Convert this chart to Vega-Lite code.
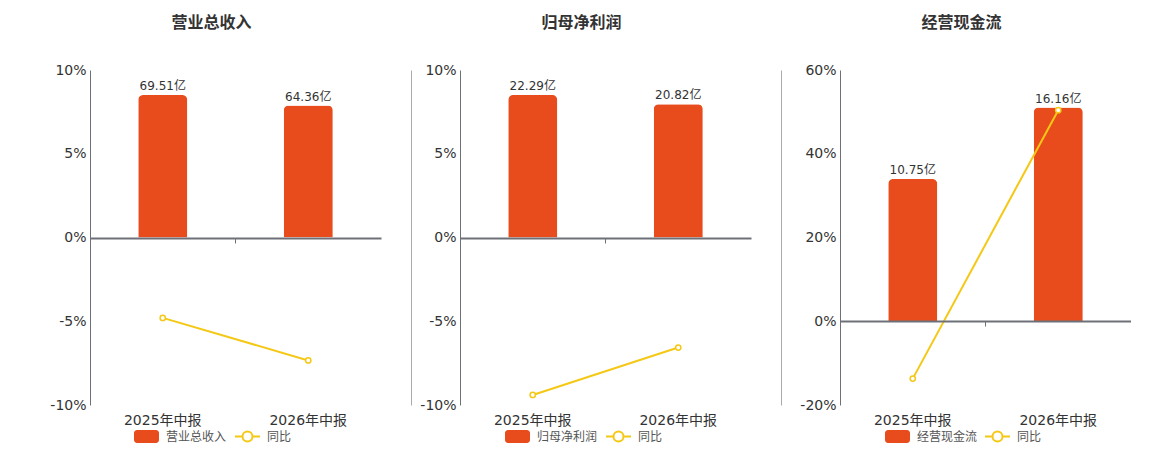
{
  "$schema": "https://vega.github.io/schema/vega-lite/v6.json",
  "padding": {"left": 49, "top": 15, "right": 0, "bottom": 0},
  "background": "white",
  "config": {
    "font": "DejaVu Sans, Noto Sans CJK SC",
    "view": {"stroke": null},
    "title": {"fontSize": 16, "fontWeight": "bold", "color": "#333", "offset": 32, "dx": -24}
  },
  "spacing": 30,
  "bounds": "full",
  "hconcat": [
    {
      "width": 291,
      "height": 335,
      "title": "营业总收入",
      "data": {
        "values": [
          {"period": "2025年中报", "value": 69.51, "label": "69.51亿", "yoy": -4.8, "name": "营业总收入", "yoyName": "同比"},
          {"period": "2026年中报", "value": 64.36, "label": "64.36亿", "yoy": -7.34, "name": "营业总收入", "yoyName": "同比"}
        ]
      },
      "layer": [
        {
          "encoding": {
            "x": {"field": "period", "type": "nominal", "sort": null, "scale": {"paddingInner": 0, "paddingOuter": 0},
              "axis": {"orient": "bottom", "title": null, "domain": false, "ticks": false, "labelAngle": 0, "labelFontSize": 14, "labelColor": "#333", "labelPadding": 8}},
            "y": {"field": "value", "type": "quantitative", "scale": {"domain": [-81.7, 81.7]}, "axis": null}
          },
          "layer": [
            {
              "mark": {"type": "bar", "width": {"band": 0.337}, "cornerRadiusTopLeft": 5, "cornerRadiusTopRight": 5},
              "encoding": {
                "fill": {"field": "name", "type": "nominal", "scale": {"range": ["#e84c1d"]},
                  "legend": {"orient": "none", "legendX": 43, "legendY": 353, "title": null, "padding": 0, "labelFontSize": 12, "labelColor": "#555", "labelOffset": 6, "symbolSize": 625,
                    "symbolType": "M-0.76,-0.52H0.76A0.24,0.24 0 0 1 1,-0.28V0.28A0.24,0.24 0 0 1 0.76,0.52H-0.76A0.24,0.24 0 0 1 -1,0.28V-0.28A0.24,0.24 0 0 1 -0.76,-0.52Z"}}
              }
            },
            {
              "mark": {"type": "text", "dy": -9, "fontSize": 12, "color": "#333"},
              "encoding": {"text": {"field": "label"}}
            }
          ]
        },
        {
          "encoding": {
            "x": {"field": "period", "type": "nominal", "sort": null,
              "axis": {"orient": "bottom", "title": null, "labels": false, "offset": -167, "domainColor": "#6e7079", "domainWidth": 2, "tickColor": "#6e7079", "tickSize": 5, "bandPosition": 0, "zindex": 2}},
            "y": {"field": "yoy", "type": "quantitative", "scale": {"domain": [-10, 10]},
              "axis": {"orient": "left", "title": null, "values": [-10, -5, 0, 5, 10], "labelExpr": "datum.value + '%'", "ticks": false, "labelFontSize": 14, "labelColor": "#333", "labelPadding": 4, "domainColor": "#6e7079", "gridColor": "#e0e6f1"}}
          },
          "layer": [
            {
              "mark": {"type": "line", "strokeWidth": 2, "point": {"filled": false, "fill": "white", "size": 28, "strokeWidth": 1.5}},
              "encoding": {
                "stroke": {"field": "yoyName", "type": "nominal", "scale": {"range": ["#f4c815"]},
                  "legend": {"orient": "none", "legendX": 144, "legendY": 353, "title": null, "padding": 0, "labelFontSize": 12, "labelColor": "#555", "labelOffset": 6, "symbolSize": 625, "symbolStrokeWidth": 2, "symbolFillColor": "white",
                    "symbolType": "M-1,0H-0.4M0.4,0H1M0.4,0A0.4,0.4 0 1 1 -0.4,0A0.4,0.4 0 1 1 0.4,0Z"}}
              }
            }
          ]
        }
      ],
      "resolve": {"scale": {"y": "independent"}, "axis": {"x": "independent"}}
    },
    {
      "width": 291,
      "height": 335,
      "title": "归母净利润",
      "data": {
        "values": [
          {"period": "2025年中报", "value": 22.29, "label": "22.29亿", "yoy": -9.4, "name": "归母净利润", "yoyName": "同比"},
          {"period": "2026年中报", "value": 20.82, "label": "20.82亿", "yoy": -6.57, "name": "归母净利润", "yoyName": "同比"}
        ]
      },
      "layer": [
        {
          "encoding": {
            "x": {"field": "period", "type": "nominal", "sort": null, "scale": {"paddingInner": 0, "paddingOuter": 0},
              "axis": {"orient": "bottom", "title": null, "domain": false, "ticks": false, "labelAngle": 0, "labelFontSize": 14, "labelColor": "#333", "labelPadding": 8}},
            "y": {"field": "value", "type": "quantitative", "scale": {"domain": [-26.19, 26.19]},
              "axis": {"orient": "left", "offset": 49, "labels": false, "ticks": false, "grid": false, "title": null, "domainColor": "#aaaaaa", "domainWidth": 1}}
          },
          "layer": [
            {
              "mark": {"type": "bar", "width": {"band": 0.337}, "cornerRadiusTopLeft": 5, "cornerRadiusTopRight": 5},
              "encoding": {
                "fill": {"field": "name", "type": "nominal", "scale": {"range": ["#e84c1d"]},
                  "legend": {"orient": "none", "legendX": 44, "legendY": 353, "title": null, "padding": 0, "labelFontSize": 12, "labelColor": "#555", "labelOffset": 6, "symbolSize": 625,
                    "symbolType": "M-0.76,-0.52H0.76A0.24,0.24 0 0 1 1,-0.28V0.28A0.24,0.24 0 0 1 0.76,0.52H-0.76A0.24,0.24 0 0 1 -1,0.28V-0.28A0.24,0.24 0 0 1 -0.76,-0.52Z"}}
              }
            },
            {
              "mark": {"type": "text", "dy": -9, "fontSize": 12, "color": "#333"},
              "encoding": {"text": {"field": "label"}}
            }
          ]
        },
        {
          "encoding": {
            "x": {"field": "period", "type": "nominal", "sort": null,
              "axis": {"orient": "bottom", "title": null, "labels": false, "offset": -167, "domainColor": "#6e7079", "domainWidth": 2, "tickColor": "#6e7079", "tickSize": 5, "bandPosition": 0, "zindex": 2}},
            "y": {"field": "yoy", "type": "quantitative", "scale": {"domain": [-10, 10]},
              "axis": {"orient": "left", "title": null, "values": [-10, -5, 0, 5, 10], "labelExpr": "datum.value + '%'", "ticks": false, "labelFontSize": 14, "labelColor": "#333", "labelPadding": 4, "domainColor": "#6e7079", "gridColor": "#e0e6f1"}}
          },
          "layer": [
            {
              "mark": {"type": "line", "strokeWidth": 2, "point": {"filled": false, "fill": "white", "size": 28, "strokeWidth": 1.5}},
              "encoding": {
                "stroke": {"field": "yoyName", "type": "nominal", "scale": {"range": ["#f4c815"]},
                  "legend": {"orient": "none", "legendX": 145, "legendY": 353, "title": null, "padding": 0, "labelFontSize": 12, "labelColor": "#555", "labelOffset": 6, "symbolSize": 625, "symbolStrokeWidth": 2, "symbolFillColor": "white",
                    "symbolType": "M-1,0H-0.4M0.4,0H1M0.4,0A0.4,0.4 0 1 1 -0.4,0A0.4,0.4 0 1 1 0.4,0Z"}}
              }
            }
          ]
        }
      ],
      "resolve": {"scale": {"y": "independent"}, "axis": {"x": "independent"}}
    },
    {
      "width": 291,
      "height": 335,
      "title": "经营现金流",
      "data": {
        "values": [
          {"period": "2025年中报", "value": 10.75, "label": "10.75亿", "yoy": -13.7, "name": "经营现金流", "yoyName": "同比"},
          {"period": "2026年中报", "value": 16.16, "label": "16.16亿", "yoy": 50.4, "name": "经营现金流", "yoyName": "同比"}
        ]
      },
      "layer": [
        {
          "encoding": {
            "x": {"field": "period", "type": "nominal", "sort": null, "scale": {"paddingInner": 0, "paddingOuter": 0},
              "axis": {"orient": "bottom", "title": null, "domain": false, "ticks": false, "labelAngle": 0, "labelFontSize": 14, "labelColor": "#333", "labelPadding": 8}},
            "y": {"field": "value", "type": "quantitative", "scale": {"domain": [-6.37, 19.01]},
              "axis": {"orient": "left", "offset": 59, "labels": false, "ticks": false, "grid": false, "title": null, "domainColor": "#aaaaaa", "domainWidth": 1}}
          },
          "layer": [
            {
              "mark": {"type": "bar", "width": {"band": 0.337}, "cornerRadiusTopLeft": 5, "cornerRadiusTopRight": 5},
              "encoding": {
                "fill": {"field": "name", "type": "nominal", "scale": {"range": ["#e84c1d"]},
                  "legend": {"orient": "none", "legendX": 44, "legendY": 353, "title": null, "padding": 0, "labelFontSize": 12, "labelColor": "#555", "labelOffset": 6, "symbolSize": 625,
                    "symbolType": "M-0.76,-0.52H0.76A0.24,0.24 0 0 1 1,-0.28V0.28A0.24,0.24 0 0 1 0.76,0.52H-0.76A0.24,0.24 0 0 1 -1,0.28V-0.28A0.24,0.24 0 0 1 -0.76,-0.52Z"}}
              }
            },
            {
              "mark": {"type": "text", "dy": -9, "fontSize": 12, "color": "#333"},
              "encoding": {"text": {"field": "label"}}
            }
          ]
        },
        {
          "encoding": {
            "x": {"field": "period", "type": "nominal", "sort": null,
              "axis": {"orient": "bottom", "title": null, "labels": false, "offset": -84, "domainColor": "#6e7079", "domainWidth": 2, "tickColor": "#6e7079", "tickSize": 5, "bandPosition": 0, "zindex": 2}},
            "y": {"field": "yoy", "type": "quantitative", "scale": {"domain": [-20, 60]},
              "axis": {"orient": "left", "title": null, "values": [-20, 0, 20, 40, 60], "labelExpr": "datum.value + '%'", "ticks": false, "labelFontSize": 14, "labelColor": "#333", "labelPadding": 4, "domainColor": "#6e7079", "gridColor": "#e0e6f1"}}
          },
          "layer": [
            {
              "mark": {"type": "line", "strokeWidth": 2, "point": {"filled": false, "fill": "white", "size": 28, "strokeWidth": 1.5}},
              "encoding": {
                "stroke": {"field": "yoyName", "type": "nominal", "scale": {"range": ["#f4c815"]},
                  "legend": {"orient": "none", "legendX": 144, "legendY": 353, "title": null, "padding": 0, "labelFontSize": 12, "labelColor": "#555", "labelOffset": 6, "symbolSize": 625, "symbolStrokeWidth": 2, "symbolFillColor": "white",
                    "symbolType": "M-1,0H-0.4M0.4,0H1M0.4,0A0.4,0.4 0 1 1 -0.4,0A0.4,0.4 0 1 1 0.4,0Z"}}
              }
            }
          ]
        }
      ],
      "resolve": {"scale": {"y": "independent"}, "axis": {"x": "independent"}}
    }
  ],
  "resolve": {"scale": {"x": "independent", "fill": "independent", "stroke": "independent"}}
}
